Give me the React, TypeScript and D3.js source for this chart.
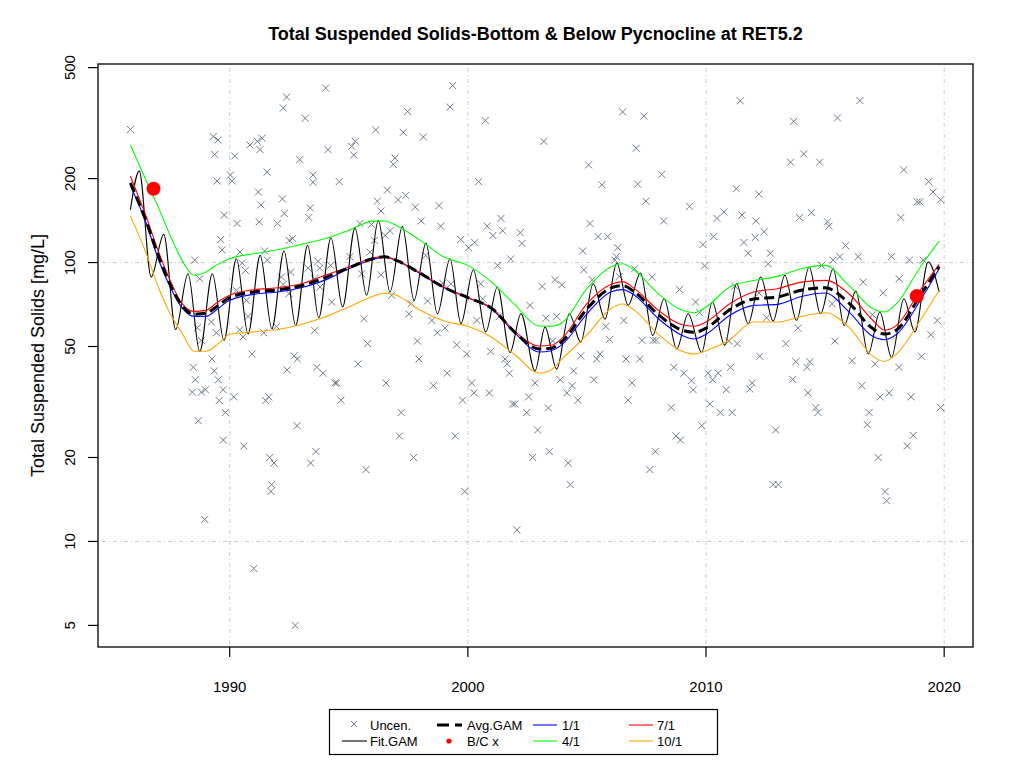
import React, { useEffect, useRef } from "react";
import * as d3 from "d3";

// uncensored observations: [decimal year, TSS mg/L]
const uncensored: [number, number][] = [
  [1985.83, 300], [1994.03, 422], [1992.39, 392], [1992.25, 358], [1993.17, 329],
  [1989.31, 283], [1989.51, 275], [1990.85, 264], [1991.16, 272], [1991.36, 279],
  [1991.27, 254], [1994.13, 254], [1989.37, 244], [1990.21, 241], [1992.94, 234],
  [1991.57, 211], [1990.03, 206], [1990.1, 196], [1989.47, 196], [1993.5, 206],
  [1993.5, 194], [1991.2, 179], [1992.21, 169], [1991.31, 161], [1993.38, 157],
  [1989.77, 148], [1992.29, 150], [1990.31, 138], [1991.24, 140], [1992.0, 138],
  [1993.32, 145], [1989.62, 121], [1989.68, 111], [1992.5, 120], [1992.64, 122],
  [1988.53, 102], [1990.43, 109], [1991.47, 110], [1991.58, 102], [1993.71, 101],
  [1990.52, 99.5], [1993.29, 95.5], [1993.78, 95.5], [1990.66, 93.7], [1992.17, 88.7],
  [1992.56, 92.4], [1988.74, 87.5], [1993.57, 87.5], [1992.24, 83.5], [1992.49, 77.3],
  [1990.28, 79.5], [1990.7, 73.2], [1990.77, 64.1], [1989.23, 61.2], [1988.64, 58.4],
  [1990.42, 57.4], [1991.96, 59.0], [1989.44, 56.0], [1990.56, 54.1], [1993.57, 57.1],
  [1988.81, 52.6], [1991.43, 56.0], [1990.94, 47.0], [1992.7, 46.3], [1992.84, 45.1],
  [1989.26, 45.1], [1988.47, 42.1], [1989.35, 40.9], [1992.41, 41.2], [1993.66, 42.1],
  [1993.92, 40.1], [1988.56, 38.0], [1989.52, 38.0], [1988.43, 34.3], [1988.81, 34.3],
  [1988.98, 35.0], [1989.72, 35.0], [1989.56, 32.0], [1990.17, 33.0], [1991.64, 33.0],
  [1991.51, 32.0], [1989.82, 29.0], [1988.68, 27.1], [1992.83, 26.0], [1989.73, 23.1],
  [1990.59, 22.0], [1993.62, 21.0], [1991.68, 20.0], [1991.86, 19.1], [1993.4, 19.1],
  [1991.76, 16.0], [1991.73, 15.1], [1988.95, 12.0], [1991.01, 8.0], [1992.75, 5.0],
  [1999.36, 431], [1999.25, 361], [1997.47, 348], [2000.73, 323], [1996.13, 299],
  [1997.29, 293], [1998.13, 282], [1995.27, 272], [1995.12, 261], [1995.21, 243],
  [1996.94, 237], [1996.87, 225], [2003.19, 272], [1994.6, 195], [2000.45, 195],
  [1996.62, 182], [1996.2, 166], [1997.07, 168], [1997.39, 174], [1997.79, 158],
  [1998.79, 160], [1996.35, 153], [1998.04, 141], [1998.86, 135], [2001.39, 144],
  [2000.81, 135], [2001.46, 130], [2001.05, 125], [2002.2, 128], [2002.27, 117],
  [1995.47, 138], [1995.96, 137], [1996.73, 130], [1996.53, 125], [1999.7, 121],
  [2000.29, 118], [2000.03, 113], [2001.8, 103], [2001.25, 97.7], [1996.07, 120],
  [1995.89, 109], [1995.05, 105], [1994.24, 97.7], [1996.35, 90.4], [1995.54, 91.1],
  [1998.23, 106], [1993.79, 81.7], [2000.54, 83.9], [2003.12, 82.1], [1999.29, 83.9],
  [1998.94, 84.4], [2000.62, 74.1], [2002.61, 70.2], [1994.28, 72.2], [1996.8, 76.3],
  [1997.62, 71.2], [1998.31, 72.8], [1997.53, 65.5], [1995.64, 62.9], [1998.49, 62.0],
  [2000.38, 62.0], [2001.32, 64.1], [2003.28, 63.2], [1999.04, 58.2], [1998.72, 56.0],
  [1995.79, 51.2], [1997.88, 52.3], [1999.53, 50.7], [1999.95, 47.0], [2000.96, 48.0],
  [2001.56, 45.1], [2001.65, 43.3], [1997.95, 45.1], [1995.39, 43.3], [1999.13, 40.1],
  [2001.74, 40.1], [1994.42, 37.0], [1994.49, 37.0], [1996.56, 37.0], [1998.55, 36.2],
  [2000.16, 37.0], [2000.26, 34.1], [2000.9, 34.1], [2002.82, 37.0], [2002.55, 33.0],
  [1994.67, 32.1], [1999.78, 32.1], [2001.88, 31.1], [2001.97, 31.1], [2002.47, 29.0],
  [2003.38, 30.1], [1997.2, 29.0], [1997.12, 23.9], [1999.47, 23.9], [2002.93, 25.1],
  [2003.42, 21.0], [1997.72, 20.0], [2002.72, 20.0], [1995.72, 18.1], [1999.87, 15.1],
  [2002.06, 11.0], [2011.44, 380], [2006.5, 347], [2007.39, 335], [2007.07, 257],
  [2005.07, 224], [2008.14, 207], [2005.63, 190], [2007.13, 191], [2011.27, 184],
  [2012.22, 176], [2007.48, 166], [2009.31, 159], [2010.75, 152], [2010.46, 144],
  [2011.51, 148], [2012.1, 141], [2005.13, 138], [2008.22, 141], [2005.47, 124],
  [2005.87, 124], [2010.32, 124], [2012.07, 123], [2011.59, 118], [2011.77, 108],
  [2009.87, 116], [2004.82, 110], [2006.29, 113], [2006.23, 105], [2006.18, 102],
  [2009.94, 97.4], [2004.87, 94.2], [2003.66, 86.8], [2003.95, 83.2], [2005.22, 86.8],
  [2007.0, 95.0], [2007.74, 88.7], [2008.89, 80.1], [2009.56, 72.2], [2011.21, 82.3],
  [2006.36, 89.2], [2003.73, 64.1], [2005.79, 59.0], [2006.55, 62.0], [2009.73, 66.1],
  [2005.95, 53.0], [2007.31, 52.6], [2007.78, 52.6], [2007.9, 52.6], [2003.56, 52.3],
  [2010.96, 52.3], [2011.31, 51.2], [2012.26, 46.1], [2004.74, 46.3], [2005.55, 47.0],
  [2005.41, 45.1], [2006.64, 45.1], [2007.22, 45.1], [2004.44, 40.9], [2008.65, 42.1],
  [2009.07, 40.1], [2009.39, 37.7], [2010.09, 40.1], [2010.51, 40.1], [2010.28, 38.0],
  [2011.03, 42.1], [2003.88, 38.0], [2004.38, 36.2], [2005.29, 38.0], [2006.89, 37.0],
  [2009.46, 35.0], [2010.85, 35.0], [2011.94, 37.0], [2011.84, 35.2], [2004.16, 34.1],
  [2004.62, 32.1], [2006.73, 32.1], [2008.54, 30.2], [2010.16, 31.1], [2010.6, 29.0],
  [2011.1, 29.0], [2009.82, 26.0], [2008.74, 23.9], [2008.93, 23.1], [2007.87, 21.0],
  [2004.21, 19.1], [2007.64, 18.1], [2004.3, 16.0], [2016.46, 381], [2013.68, 321],
  [2015.52, 330], [2014.1, 245], [2013.55, 229], [2014.77, 229], [2018.3, 215],
  [2019.35, 195], [2019.53, 179], [2019.85, 168], [2018.87, 165], [2018.98, 165],
  [2012.44, 129], [2013.93, 145], [2014.43, 151], [2015.1, 140], [2015.16, 135],
  [2018.18, 145], [2015.86, 115], [2012.7, 108], [2012.61, 99.0], [2015.62, 105],
  [2015.34, 102], [2016.39, 105], [2017.79, 105], [2018.54, 102], [2019.12, 102],
  [2014.85, 97.7], [2018.11, 87.5], [2016.6, 85.1], [2017.44, 77.9], [2015.29, 71.2],
  [2012.23, 77.7], [2012.54, 63.4], [2013.86, 58.2], [2016.99, 65.0], [2019.71, 62.0],
  [2019.44, 55.1], [2013.35, 51.2], [2015.41, 52.3], [2013.77, 44.1], [2014.36, 44.1],
  [2014.24, 42.1], [2016.14, 44.5], [2017.1, 43.3], [2018.1, 42.1], [2019.05, 46.1],
  [2013.64, 38.1], [2014.28, 34.1], [2016.54, 36.2], [2017.31, 33.0], [2017.69, 34.1],
  [2018.61, 33.0], [2019.85, 30.2], [2014.61, 30.2], [2014.7, 29.0], [2016.85, 29.0],
  [2016.78, 26.2], [2012.93, 25.1], [2018.7, 24.0], [2018.45, 22.0], [2017.23, 20.0],
  [2012.82, 16.0], [2013.03, 16.0], [2017.52, 15.1], [2017.58, 14.0],
];

// smooth GAM curves, sampled at these years
const smoothYears = [
  1985.83, 1986.5, 1987, 1987.5, 1988, 1988.5, 1989, 1989.5, 1990, 1991, 1992, 1993,
  1994, 1995, 1996, 1996.5, 1997, 1998, 1999, 2000, 2001, 2002, 2003, 2003.5, 2004,
  2005, 2006, 2006.5, 2007, 2008, 2009, 2009.5, 2010, 2011, 2012, 2013, 2014, 2015,
  2016, 2017, 2017.5, 2018, 2019, 2019.79,
];
const avgGam = [
  193, 140, 106, 83.5, 70, 65.3, 65.8, 70, 74.8, 78.4, 79.8, 82.6, 88.2, 95.7, 103.2,
  104.8, 101.8, 91.5, 81.5, 74.8, 68.5, 56, 49, 49.3, 52.6, 68.2, 81, 82.7, 78.4, 65,
  57.2, 56.2, 58.2, 67.8, 74, 75.2, 79.6, 81.2, 71.6, 58, 55.4, 57.3, 76.3, 96.8,
];
const gam1of1 = [
  189, 138, 103, 81.7, 68.8, 64.1, 64.1, 68.3, 73.2, 76.9, 78.4, 81.2, 86.5, 95, 102.6,
  104.6, 101.8, 91.2, 81.2, 74.8, 68.3, 55.6, 47.8, 48.3, 51.2, 65.5, 78.4, 80, 76.3,
  62.9, 54.8, 53.2, 55.3, 64.7, 70.2, 70.8, 75.6, 77.8, 66.5, 54.4, 52.9, 55.3, 73.2, 95,
];
const gam4of1 = [
  264, 196, 158, 125, 101.8, 90, 92.5, 98.5, 103.2, 107.5, 111.1, 116.2, 121.7, 130.4,
  140.8, 141, 135.9, 120.1, 104.6, 97.7, 85.1, 70.2, 59.2, 59.1, 61.2, 80.6, 96.4, 99,
  93.8, 77.3, 67.4, 66.1, 69.3, 81.7, 86.2, 89.2, 95, 97.7, 82.8, 68.3, 66.5, 71.2,
  96.4, 119.4,
];
const gam7of1 = [
  204, 145.6, 110, 86.3, 71.2, 66.8, 67.4, 72.2, 76.3, 79.9, 81.2, 83.9, 90, 96.4, 103.8,
  105, 101.8, 91.7, 81.7, 74.8, 68.8, 56.4, 50.2, 50.5, 54, 71.2, 83.5, 85.4, 80.6, 67.4,
  59.8, 59.1, 61.2, 71.2, 78.4, 80.6, 85.1, 86.3, 77.3, 62.1, 57.2, 59.5, 79.6, 98.5,
];
const gam10of1 = [
  147, 107.5, 81.7, 65.5, 55.9, 48.1, 48.1, 51, 55.3, 56.4, 57.5, 60, 63.8, 69.3, 75.6,
  77.6, 76.3, 67.4, 61.7, 59.1, 54, 46.5, 40.1, 41.2, 45.5, 55, 68.3, 71, 67.4, 55.3,
  48.1, 47, 48.3, 52.9, 61.2, 61.2, 64.1, 66.1, 58.7, 46.2, 44.2, 47, 62.1, 79.6,
];

// fitted GAM with seasonal term: turning points (peaks / troughs)
const fitYears = [
  1985.83, 1986.2, 1986.7, 1987.23, 1987.73, 1988.25, 1988.74, 1989.27, 1989.76,
  1990.28, 1990.77, 1991.28, 1991.77, 1992.28, 1992.77, 1993.27, 1993.74, 1994.25,
  1994.74, 1995.26, 1995.75, 1996.24, 1996.73, 1997.25, 1997.74, 1998.24, 1998.72,
  1999.25, 1999.71, 2000.23, 2000.75, 2001.24, 2001.77, 2002.23, 2002.82, 2003.24,
  2003.73, 2004.26, 2004.74, 2005.26, 2005.76, 2006.25, 2006.73, 2007.25, 2007.76,
  2008.24, 2008.77, 2009.25, 2009.82, 2010.26, 2010.79, 2011.28, 2011.77, 2012.3,
  2012.82, 2013.31, 2013.8, 2014.33, 2014.81, 2015.34, 2015.8, 2016.29, 2016.81,
  2017.3, 2017.79, 2018.31, 2018.77, 2019.33, 2019.79,
];
const fitGam = [
  154.6, 212.8, 88.7, 126.2, 57.5, 91.2, 48, 91.2, 52.6, 103.2, 55.5, 106.1, 57.9, 110,
  59.5, 115.3, 63.4, 122.7, 69.3, 132.9, 76.3, 141.6, 78.4, 134.8, 73.2, 117.4, 65.5,
  103.2, 60.4, 94.2, 56.4, 81.7, 47.6, 65.5, 40.9, 58.7, 41.5, 65.5, 51.8, 83.9, 62.7,
  99.6, 70.2, 91.7, 54.8, 74.2, 49.0, 65.5, 47.6, 72.2, 50.5, 83.9, 60.4, 88.7, 61.7,
  90, 62.1, 96.4, 65.5, 95, 59.5, 79, 47, 66.5, 45.7, 74.2, 56.4, 100.4, 78.4,
];

const bcPoints: [number, number][] = [
  [1986.8, 184],
  [2018.85, 75.8],
];

const xTicks = [1990, 2000, 2010, 2020];
const yTicks = [5, 10, 20, 50, 100, 200, 500];
const yGrid = [10, 100];

const W = 1024;
const H = 768;
const FONT = "'Liberation Sans', Arial, Helvetica, sans-serif";

export default function App() {
  const svgRef = useRef<SVGSVGElement>(null);

  useEffect(() => {
    if (!svgRef.current) return;
    const svg = d3.select(svgRef.current);
    svg.selectAll("*").remove();

    const plot = { left: 98, right: 973, top: 64, bottom: 647 };

    const colors = {
      pts: "#6C7B8B",
      grid: "#cccccc",
      one: "#0000FF",
      four: "#00FF00",
      seven: "#FF0000",
      ten: "#FFA500",
    };

    // R style limits: data range widened by 4% on each side
    const [x0, x1] = d3.extent(uncensored, (d) => d[0]) as [number, number];
    const xPad = (x1 - x0) * 0.04;
    const [v0, v1] = d3.extent(uncensored, (d) => d[1]) as [number, number];
    const lPad = (Math.log10(v1) - Math.log10(v0)) * 0.04;

    const x = d3
      .scaleLinear()
      .domain([x0 - xPad, x1 + xPad])
      .range([plot.left, plot.right]);
    const y = d3
      .scaleLog()
      .domain([Math.pow(10, Math.log10(v0) - lPad), Math.pow(10, Math.log10(v1) + lPad)])
      .range([plot.bottom, plot.top]);

    svg
      .append("rect")
      .attr("width", W)
      .attr("height", H)
      .attr("fill", "#ffffff");

    svg
      .append("text")
      .attr("x", (plot.left + plot.right) / 2)
      .attr("y", 40)
      .attr("text-anchor", "middle")
      .style("font-family", FONT)
      .style("font-size", "18px")
      .style("font-weight", "bold")
      .text("Total Suspended Solids-Bottom & Below Pycnocline at RET5.2");

    // grid
    const grid = svg.append("g").attr("stroke", colors.grid).attr("stroke-width", 1)
      .attr("stroke-dasharray", "1,3,4,3");
    xTicks.forEach((t) => {
      grid.append("line")
        .attr("x1", x(t)).attr("x2", x(t))
        .attr("y1", plot.top).attr("y2", plot.bottom);
    });
    yGrid.forEach((t) => {
      grid.append("line")
        .attr("x1", plot.left).attr("x2", plot.right)
        .attr("y1", y(t)).attr("y2", y(t));
    });

    // observations
    const cross = "M-3.5,-3.5L3.5,3.5M-3.5,3.5L3.5,-3.5";
    svg
      .append("g")
      .selectAll("path")
      .data(uncensored)
      .enter()
      .append("path")
      .attr("transform", (d) => `translate(${x(d[0])},${y(d[1])})`)
      .attr("d", cross)
      .attr("fill", "none")
      .attr("stroke", colors.pts)
      .attr("stroke-width", 1);

    const line = d3
      .line<[number, number]>()
      .x((d) => x(d[0]))
      .y((d) => y(d[1]))
      .curve(d3.curveMonotoneX);

    const drawCurve = (
      years: number[],
      vals: number[],
      stroke: string,
      width: number,
      dash?: string
    ) => {
      const p = svg
        .append("path")
        .datum(years.map((yr, i) => [yr, vals[i]] as [number, number]))
        .attr("fill", "none")
        .attr("stroke", stroke)
        .attr("stroke-width", width)
        .attr("d", line);
      if (dash) p.attr("stroke-dasharray", dash);
    };

    drawCurve(fitYears, fitGam, "#000000", 1.1);
    drawCurve(smoothYears, gam1of1, colors.one, 1.1);
    drawCurve(smoothYears, gam4of1, colors.four, 1.1);
    drawCurve(smoothYears, gam7of1, colors.seven, 1.1);
    drawCurve(smoothYears, gam10of1, colors.ten, 1.1);
    drawCurve(smoothYears, avgGam, "#000000", 3, "10,5");

    svg
      .append("g")
      .selectAll("circle")
      .data(bcPoints)
      .enter()
      .append("circle")
      .attr("cx", (d) => x(d[0]))
      .attr("cy", (d) => y(d[1]))
      .attr("r", 7)
      .attr("fill", colors.seven);

    // box and axes
    svg
      .append("rect")
      .attr("x", plot.left)
      .attr("y", plot.top)
      .attr("width", plot.right - plot.left)
      .attr("height", plot.bottom - plot.top)
      .attr("fill", "none")
      .attr("stroke", "#000")
      .attr("stroke-width", 1.3);

    const tick = 10;
    const ax = svg.append("g").attr("stroke", "#000").attr("stroke-width", 1.2);
    xTicks.forEach((t) => {
      ax.append("line")
        .attr("x1", x(t)).attr("x2", x(t))
        .attr("y1", plot.bottom).attr("y2", plot.bottom + tick);
    });
    yTicks.forEach((t) => {
      ax.append("line")
        .attr("x1", plot.left - tick).attr("x2", plot.left)
        .attr("y1", y(t)).attr("y2", y(t));
    });

    svg
      .append("g")
      .selectAll("text")
      .data(xTicks)
      .enter()
      .append("text")
      .attr("x", (d) => x(d))
      .attr("y", 692)
      .attr("text-anchor", "middle")
      .style("font-family", FONT)
      .style("font-size", "15px")
      .text((d) => String(d));

    svg
      .append("g")
      .selectAll("text")
      .data(yTicks)
      .enter()
      .append("text")
      .attr("transform", (d) => `translate(75,${y(d)}) rotate(-90)`)
      .attr("text-anchor", "middle")
      .style("font-family", FONT)
      .style("font-size", "15px")
      .text((d) => String(d));

    svg
      .append("text")
      .attr("transform", `translate(44,${(plot.top + plot.bottom) / 2}) rotate(-90)`)
      .attr("text-anchor", "middle")
      .style("font-family", FONT)
      .style("font-size", "18px")
      .text("Total Suspended Solids [mg/L]");

    // legend
    const lg = svg.append("g").style("font-family", FONT).style("font-size", "13px");
    lg.append("rect")
      .attr("x", 329.5)
      .attr("y", 709.5)
      .attr("width", 388)
      .attr("height", 45)
      .attr("fill", "#fff")
      .attr("stroke", "#000")
      .attr("stroke-width", 1.2);

    const row1 = 725;
    const row2 = 741;
    const label = (tx: number, ty: number, s: string) =>
      lg.append("text").attr("x", tx).attr("y", ty + 4.5).text(s);
    const seg = (a: number, b: number, ty: number, stroke: string, w = 1.1, dash?: string) => {
      const l = lg.append("line")
        .attr("x1", a).attr("x2", b).attr("y1", ty).attr("y2", ty)
        .attr("stroke", stroke).attr("stroke-width", w);
      if (dash) l.attr("stroke-dasharray", dash);
    };

    lg.append("path")
      .attr("transform", `translate(354,${row1 - 1})`)
      .attr("d", "M-3,-3L3,3M-3,3L3,-3")
      .attr("stroke", colors.pts)
      .attr("fill", "none");
    label(370, row1, "Uncen.");
    seg(342, 367, row2, "#000");
    label(370, row2, "Fit.GAM");

    seg(437, 462, row1, "#000", 3, "12,6");
    label(467, row1, "Avg.GAM");
    lg.append("circle").attr("cx", 449).attr("cy", row2).attr("r", 2.6).attr("fill", colors.seven);
    label(467, row2, "B/C x");

    seg(533, 557, row1, colors.one);
    label(562, row1, "1/1");
    seg(533, 557, row2, colors.four);
    label(562, row2, "4/1");

    seg(629, 653, row1, colors.seven);
    label(657, row1, "7/1");
    seg(629, 653, row2, colors.ten);
    label(657, row2, "10/1");
  }, []);

  return (
    <div style={{ position: "absolute", left: 0, top: 0 }}>
      <svg ref={svgRef} width={W} height={H} viewBox={`0 0 ${W} ${H}`} />
    </div>
  );
}
